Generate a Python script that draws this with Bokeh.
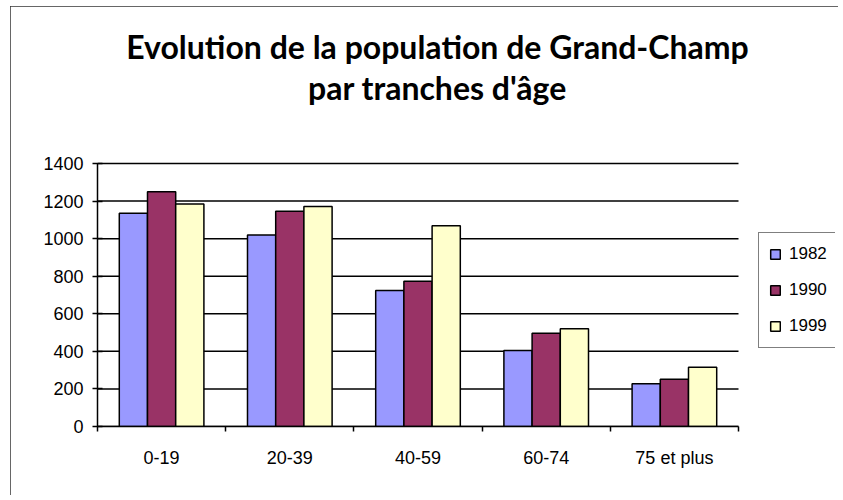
from bokeh.plotting import figure
from bokeh.models import (ColumnDataSource, Range1d, FixedTicker, Label, Legend, LegendItem)
from bokeh.transform import dodge
from bokeh.embed import file_html
from bokeh.resources import INLINE

categories = ["0-19", "20-39", "40-59", "60-74", "75 et plus"]
years = ["1982", "1990", "1999"]
pop_1982 = [1135, 1020, 724, 405, 227]
pop_1990 = [1249, 1146, 773, 497, 252]
pop_1999 = [1185, 1171, 1068, 520, 316]
colors = ["#9999FF", "#993366", "#FFFFCC"]
y_ticks = [0, 200, 400, 600, 800, 1000, 1200, 1400]
title_lines = ["Evolution de la population de Grand-Champ", "par tranches d'âge"]

n = len(categories)
y_max = y_ticks[-1]
centers = [i + 0.5 for i in range(n)]
source = ColumnDataSource(data=dict(x=centers, y1982=pop_1982, y1990=pop_1990, y1999=pop_1999))

# layout geometry (pixels)
W, H = 828, 489
frame_left, frame_bottom_px, frame_top_px, frame_right_px = 87, 420, 3, 825
axis_len_px = 641          # pixel length of the category axis
axis_h_px = 263            # pixel height of the value axis (0..1400)
x_end = (frame_right_px - frame_left) / (axis_len_px / n)
y_end = (frame_bottom_px - frame_top_px) * y_max / axis_h_px

p = figure(width=W, height=H, output_backend="svg", toolbar_location=None,
           x_range=Range1d(0, x_end), y_range=Range1d(0, y_end),
           min_border_left=frame_left, min_border_right=W - frame_right_px,
           min_border_top=frame_top_px, min_border_bottom=H - frame_bottom_px)
p.outline_line_color = None
p.background_fill_color = "white"
p.border_fill_color = "white"
p.styles = {"margin-left": "10px", "margin-top": "6px",
            "outline": "2px solid #333", "outline-offset": "-2px"}

# horizontal gridlines restricted to the plot area
p.segment(x0=[0] * len(y_ticks), x1=[n] * len(y_ticks), y0=y_ticks, y1=y_ticks,
          line_color="black", line_width=1.5)

offsets = [-0.22, 0.0, 0.22]
renderers = []
for yr, col, off in zip(years, colors, offsets):
    r = p.vbar(x=dodge("x", off, range=p.x_range), top="y" + yr, width=0.22, source=source,
               fill_color=col, line_color="black", line_width=1.5)
    renderers.append(r)

# axes
p.xaxis.bounds = (0, n)
p.xaxis.ticker = FixedTicker(ticks=centers, minor_ticks=list(range(n + 1)))
p.xaxis.major_label_overrides = {c: lab for c, lab in zip(centers, categories)}
p.xaxis.major_tick_line_color = None
p.xaxis.minor_tick_line_color = "black"
p.xaxis.minor_tick_line_width = 1.5
p.xaxis.minor_tick_out = 5
p.xaxis.minor_tick_in = 0
p.xaxis.axis_line_color = "black"
p.xaxis.axis_line_width = 1.5
p.xaxis.major_label_standoff = 15
p.xaxis.major_label_text_font = "Liberation Sans"
p.xaxis.major_label_text_font_size = "18px"
p.xaxis.major_label_text_color = "black"

p.yaxis.bounds = (0, y_max)
p.yaxis.ticker = FixedTicker(ticks=y_ticks)
p.yaxis.minor_tick_line_color = None
p.yaxis.major_tick_in = 5
p.yaxis.major_tick_out = 5
p.yaxis.major_tick_line_color = "black"
p.yaxis.major_tick_line_width = 1.5
p.yaxis.axis_line_color = "black"
p.yaxis.axis_line_width = 1.5
p.yaxis.major_label_standoff = 9
p.yaxis.major_label_text_font = "Liberation Sans"
p.yaxis.major_label_text_font_size = "18px"
p.yaxis.major_label_text_color = "black"

p.xgrid.grid_line_color = None
p.ygrid.grid_line_color = None

# title
for line, yv in zip(title_lines, [2025, 1805]):
    p.add_layout(Label(x=2.652, y=yv, text=line, text_align="center", text_baseline="alphabetic",
                       text_font="Lato", text_font_style="bold", text_font_size="32px",
                       text_color="black"))

legend = Legend(items=[LegendItem(label=yr, renderers=[r]) for yr, r in zip(years, renderers)],
                location=(661, 78), orientation="vertical",
                border_line_color="black", border_line_width=1.5,
                background_fill_color="white", background_fill_alpha=1.0,
                glyph_width=12, glyph_height=12, label_height=22, spacing=14,
                label_standoff=8, padding=10, margin=0,
                label_text_font="Liberation Sans", label_text_font_size="17px",
                label_text_color="black")
p.add_layout(legend, "center")

open("out.html", "w").write(file_html(p, INLINE))
